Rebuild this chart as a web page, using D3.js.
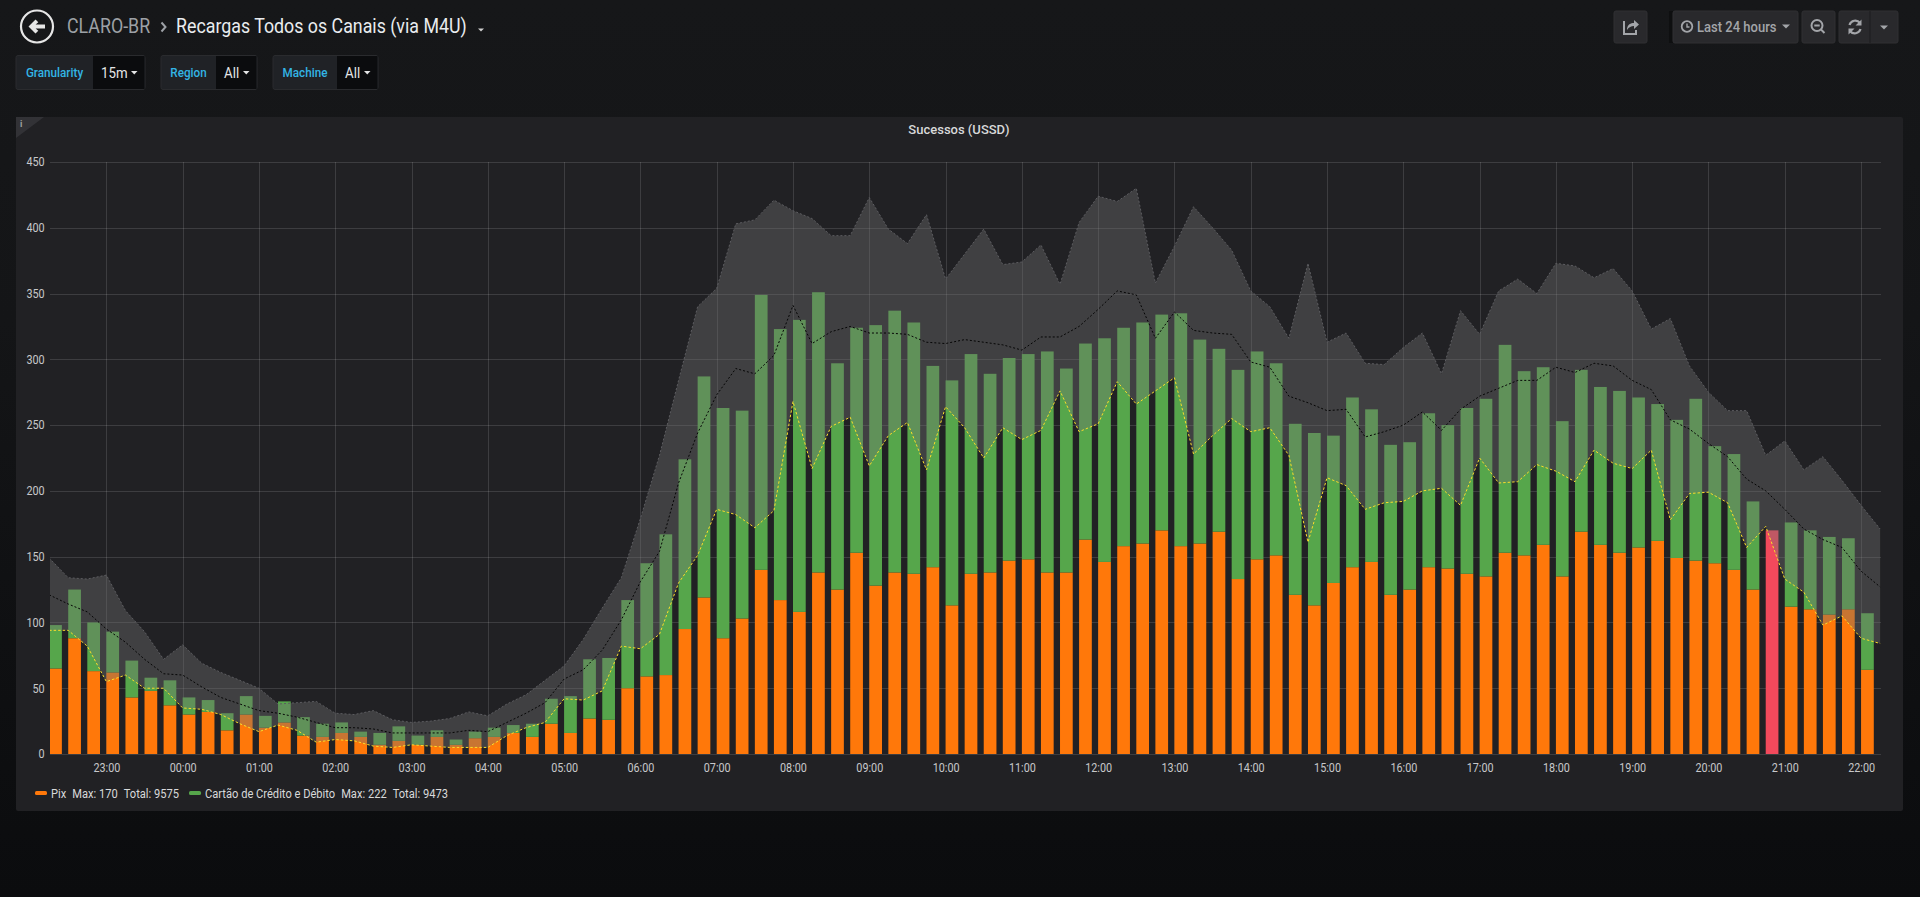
<!DOCTYPE html>
<html lang="pt-BR">
<head>
<meta charset="utf-8">
<title>Recargas Todos os Canais (via M4U)</title>
<script src="https://cdn.jsdelivr.net/npm/d3@7"></script>
<style>
  html, body { margin: 0; padding: 0; }
  body {
    width: 1920px; height: 897px; overflow: hidden;
    background: linear-gradient(180deg, #161719 0px, #141517 320px, #0b0c0e 897px);
    font-family: Roboto, "Noto Sans", sans-serif;
  }
  svg text { font-family: Roboto, "Noto Sans", sans-serif; }
</style>
</head>
<body>
<div id="maViz"></div>
<script>
///////////////////////////////////////////////////////////////
// DONNEES (lues sur l'image, pas de 15 min, 22:15 -> 22:00)

const heuresLabels = ["23:00","00:00","01:00","02:00","03:00","04:00","05:00","06:00",
  "07:00","08:00","09:00","10:00","11:00","12:00","13:00","14:00","15:00","16:00",
  "17:00","18:00","19:00","20:00","21:00","22:00"];
const yTicks = [0, 50, 100, 150, 200, 250, 300, 350, 400, 450];

// Pix (orange, en bas de la pile)
const pix = [65,88,63,62,43,48,37,30,32,18, 30,20,24,14,13,16,13,7,10,7,
  13,7,12,13,16,13,23,16,27,26, 50,59,60,95,119,88,103,140,117,108,
  138,125,153,128,138,137,142,113,137,138, 147,148,138,138,163,146,158,160,170,158,
  160,169,133,148,151,121,113,130,142,146, 121,125,142,141,137,135,153,151,159,135,
  169,159,153,157,162,149,147,145,140,125, 170,112,110,106,110,64];

// Cartão de Crédito e Débito (vert, empilé sur Pix)
const cartao = [33,37,37,31,28,10,19,13,9,13, 14,9,16,14,10,8,4,9,11,7,
  5,4,5,7,6,10,19,28,45,47, 67,86,107,129,168,175,158,209,206,222,
  213,172,171,198,199,191,153,171,167,151, 154,156,168,155,149,170,166,168,164,177,
  155,139,159,158,146,130,131,112,129,116, 114,112,117,109,126,135,158,140,135,118,
  123,120,123,114,104,105,123,89,88,67, 0,64,60,59,54,43];

// barre en rouge (index)
const destaque = [90];

// comparaison : bande (haut / bas) + moyenne, un point de plus (22:15)
const bandeHaut = [149,134,133,136,109,93,72,83,69,62, 56,50,38,39,40,31,30,33,26,24,
  25,27,32,29,38,45,56,67,87,111, 134,179,227,284,340,354,403,406,421,413,
  407,394,394,423,399,388,410,361,380,399, 372,374,387,357,404,424,420,430,358,386,
  416,400,383,352,340,316,373,313,320,297, 296,309,320,289,337,319,352,361,350,373,
  371,362,369,352,323,331,295,275,261,261, 227,238,216,226,208,189,171];
const moyenne = [121,114,108,95,85,72,61,60,51,43, 38,33,31,28,24,20,20,19,16,16,
  16,16,18,17,24,31,39,57,64,79, 102,131,154,206,244,273,293,289,303,341,
  312,321,325,320,320,319,313,312,315,313, 311,307,317,317,325,338,352,349,316,336,
  322,320,319,298,294,272,267,261,262,241, 245,250,260,246,262,272,278,284,284,294,
  290,297,295,284,277,254,247,236,226,209, 200,186,171,163,157,139,127];
const bandeBas = [94,94,82,55,60,50,50,35,34,30, 23,17,22,18,9,11,10,6,5,7,
  6,5,5,5,14,20,24,42,41,48, 82,80,91,130,151,186,182,172,185,268,
  217,249,256,219,242,252,216,264,248,225, 248,239,246,276,245,251,283,266,276,286,
  228,242,255,245,248,227,161,210,204,186, 191,192,200,202,189,225,206,207,220,215,
  207,231,221,217,231,178,198,199,191,157, 173,133,123,98,105,88,84];

const legende = [
  {nom: "Pix", couleur: "#FF780A", max: "Max: 170", total: "Total: 9575"},
  {nom: "Cartão de Crédito e Débito", couleur: "#56A64B", max: "Max: 222", total: "Total: 9473"}
];

///////////////////////////////////////////////////////////////
// CANEVAS
const W = 1920, H = 897;
const plot = {left: 50, right: 1881, top: 162, bottom: 754};
const txt = "#d8d9da";
const etroit = 0.89; // le texte de la capture est un peu serré en largeur

const svg = d3.select("#maViz").append("svg")
  .attr("width", W).attr("height", H)
  .style("display", "block");

// texte un peu compressé horizontalement
function texte(g, x, y, s, sx) {
  return g.append("text")
    .attr("transform", `translate(${x},${y}) scale(${sx || etroit},1)`)
    .text(s);
}

///////////////////////////////////////////////////////////////
// ENTETE (bouton retour, titre, variables, barre d'outils)
const entete = svg.append("g");

entete.append("circle").attr("cx", 37).attr("cy", 26.5).attr("r", 16)
  .attr("fill", "none").attr("stroke", "#e6e6e6").attr("stroke-width", 2.2);
entete.append("path")
  .attr("d", "M28.5,26.5 L35.5,19.5 L38.3,22.3 L35.6,24.6 L45,24.6 L45,28.4 L35.6,28.4 L38.3,30.7 L35.5,33.5 Z")
  .attr("fill", "#e6e6e6");

texte(entete, 67, 33, "CLARO-BR").attr("font-size", 20).attr("fill", "#9da1a6");
entete.append("path").attr("d", "M161.5,22.5 L165.5,27 L161.5,31.5")
  .attr("fill", "none").attr("stroke", "#9da1a6").attr("stroke-width", 2);
texte(entete, 176, 33, "Recargas Todos os Canais (via M4U)").attr("font-size", 20).attr("fill", "#e9ecef");
entete.append("path").attr("d", "M478,28.5 L484,28.5 L481,31.5 Z").attr("fill", "#d0d0d0");

// variables du dashboard
const variables = [
  {label: "Granularity", valeur: "15m", x0: 16, x1: 93, x2: 145},
  {label: "Region", valeur: "All", x0: 161, x1: 216, x2: 257},
  {label: "Machine", valeur: "All", x0: 273, x1: 337, x2: 378}
];
variables.forEach(v => {
  const g = entete.append("g");
  g.append("rect").attr("x", v.x0).attr("y", 55.5).attr("width", v.x2 - v.x0).attr("height", 34)
    .attr("rx", 2).attr("fill", "#202226").attr("stroke", "#2a2b2e");
  g.append("rect").attr("x", v.x1).attr("y", 56).attr("width", v.x2 - v.x1 - 0.5).attr("height", 33)
    .attr("fill", "#0b0c0e");
  texte(g, (v.x0 + v.x1) / 2, 77, v.label, 0.9).attr("text-anchor", "middle")
    .attr("font-size", 13).attr("font-weight", 500).attr("fill", "#33b5e5");
  texte(g, v.x1 + 8, 77.5, v.valeur, 0.95)
    .attr("font-size", 14).attr("fill", "#e4e5e6");
  g.append("path").attr("d", `M${v.x2 - 14},71 L${v.x2 - 7.5},71 L${v.x2 - 10.75},74.5 Z`).attr("fill", "#e4e5e6");
});

// barre d'outils à droite
const boutons = [
  {x0: 1614, x1: 1647}, {x0: 1673, x1: 1798}, {x0: 1802, x1: 1835}, {x0: 1839, x1: 1898}
];
entete.append("rect").attr("x", 1669).attr("y", 11).attr("width", 4).attr("height", 32).attr("fill", "#0e0f10");
boutons.forEach(b => {
  entete.append("rect").attr("x", b.x0).attr("y", 11).attr("width", b.x1 - b.x0).attr("height", 32)
    .attr("rx", 2).attr("fill", "#29292c").attr("stroke", "#303033");
});
entete.append("line").attr("x1", 1870).attr("x2", 1870).attr("y1", 11).attr("y2", 43).attr("stroke", "#1c1c1e");
const gris = "#a3a5a9";
// partager
entete.append("path").attr("d", "M1624,21 L1624,34 L1636,34 L1636,30")
  .attr("fill", "none").attr("stroke", gris).attr("stroke-width", 2);
entete.append("path").attr("d", "M1627,30 C1627,24 1631,23 1634,23 L1634,20 L1639,24.5 L1634,29 L1634,26 C1631,26 1629,27 1627,30 Z")
  .attr("fill", gris);
// horloge + texte
entete.append("circle").attr("cx", 1687).attr("cy", 26.5).attr("r", 5.3).attr("fill", "none").attr("stroke", gris).attr("stroke-width", 1.8);
entete.append("path").attr("d", "M1687,23.5 L1687,27 L1689.5,27").attr("fill", "none").attr("stroke", gris).attr("stroke-width", 1.4);
texte(entete, 1697, 31.5, "Last 24 hours", 0.93).attr("font-size", 14).attr("font-weight", 500).attr("fill", gris);
entete.append("path").attr("d", "M1782,24.5 L1790,24.5 L1786,28.5 Z").attr("fill", gris);
// loupe
entete.append("circle").attr("cx", 1817).attr("cy", 25.5).attr("r", 5.5).attr("fill", "none").attr("stroke", gris).attr("stroke-width", 2);
entete.append("path").attr("d", "M1814.3,25.5 L1819.7,25.5 M1821,29.5 L1824.5,33").attr("stroke", gris).attr("stroke-width", 2);
// rafraîchir
entete.append("path").attr("d", "M1849.5,25 A6,6 0 0 1 1860,23 M1860.5,29 A6,6 0 0 1 1850,31")
  .attr("fill", "none").attr("stroke", gris).attr("stroke-width", 2.2);
entete.append("path").attr("d", "M1861.5,19.5 L1861.5,25.5 L1855.5,25.5 Z M1848.5,34.5 L1848.5,28.5 L1854.5,28.5 Z").attr("fill", gris);
entete.append("path").attr("d", "M1880,25.5 L1888,25.5 L1884,29.5 Z").attr("fill", gris);

///////////////////////////////////////////////////////////////
// PANNEAU
const panneau = svg.append("g");
panneau.append("rect").attr("x", 16).attr("y", 117).attr("width", 1887).attr("height", 694)
  .attr("rx", 2).attr("fill", "#212124");
panneau.append("path").attr("d", "M16,117 L44,117 L16,138 Z").attr("fill", "#323236");
panneau.append("text").attr("x", 20).attr("y", 127).attr("font-size", 9).attr("font-weight", 700)
  .attr("fill", "#a0a0a0").text("i");
panneau.append("text").attr("x", 959).attr("y", 134).attr("text-anchor", "middle")
  .attr("font-size", 13).attr("font-weight", 500).attr("fill", txt).text("Sucessos (USSD)");

///////////////////////////////////////////////////////////////
// ECHELLES
const debut = new Date(Date.UTC(2024, 2, 10, 22, 15));
const horaires = d3.utcMinute.every(15).range(debut, d3.utcMinute.offset(debut, 24 * 60 + 1)); // 97 points
const heures = heuresLabels.map((h, i) => d3.utcHour.offset(new Date(Date.UTC(2024, 2, 10, 23, 0)), i));

const x = d3.scaleUtc()
  .domain([d3.utcSecond.offset(debut, 40), d3.utcSecond.offset(debut, 24 * 3600 + 40)])
  .range([plot.left, plot.right]);
const y = d3.scaleLinear()
  .domain([0, 450])
  .range([plot.bottom, plot.top]);

svg.append("clipPath").attr("id", "zone")
  .append("rect").attr("x", plot.left).attr("y", plot.top - 2)
  .attr("width", plot.right - plot.left).attr("height", plot.bottom - plot.top + 2);

///////////////////////////////////////////////////////////////
// GRILLE
const grille = svg.append("g").attr("stroke", "rgba(255,255,255,0.13)").attr("stroke-width", 1);
grille.selectAll("line.h").data(yTicks).join("line").attr("class", "h")
  .attr("x1", plot.left).attr("x2", plot.right)
  .attr("y1", d => Math.round(y(d)) + 0.5).attr("y2", d => Math.round(y(d)) + 0.5);
grille.selectAll("line.v").data(heures).join("line").attr("class", "v")
  .attr("y1", plot.top).attr("y2", plot.bottom)
  .attr("x1", d => Math.round(x(d)) + 0.5).attr("x2", d => Math.round(x(d)) + 0.5);

///////////////////////////////////////////////////////////////
// BARRES EMPILEES
const zone = svg.append("g").attr("clip-path", "url(#zone)");
const barres = horaires.slice(0, pix.length).map((t, i) => ({
  t: t, pix: pix[i], cartao: cartao[i], rouge: destaque.includes(i)
}));
const largeur = d => x(d3.utcMinute.offset(d.t, 10)) - x(d.t);

zone.append("g").selectAll("rect")
  .data(barres).join("rect")
    .attr("x", d => x(d.t))
    .attr("width", largeur)
    .attr("y", d => y(d.pix))
    .attr("height", d => y(0) - y(d.pix))
    .attr("fill", d => d.rouge ? "#F2495C" : "#FF780A");

zone.append("g").selectAll("rect")
  .data(barres.filter(d => d.cartao > 0)).join("rect")
    .attr("x", d => x(d.t))
    .attr("width", largeur)
    .attr("y", d => y(d.pix + d.cartao))
    .attr("height", d => y(d.pix) - y(d.pix + d.cartao))
    .attr("fill", "#56A64B");

///////////////////////////////////////////////////////////////
// BANDE DE COMPARAISON + LIGNES POINTILLEES
const comp = horaires.map((t, i) => ({t: t, haut: bandeHaut[i], moy: moyenne[i], bas: bandeBas[i]}));

zone.append("path").datum(comp)
  .attr("fill", "rgba(113,113,113,0.39)")
  .attr("d", d3.area().x(d => x(d.t)).y0(d => y(d.bas)).y1(d => y(d.haut)));

const ligne = champ => d3.line().x(d => x(d.t)).y(d => y(d[champ]));
zone.append("path").datum(comp).attr("fill", "none")
  .attr("stroke", "#5c5c60").attr("stroke-width", 1).attr("stroke-dasharray", "2,2")
  .attr("d", ligne("haut"));
zone.append("path").datum(comp).attr("fill", "none")
  .attr("stroke", "#050505").attr("stroke-width", 1).attr("stroke-dasharray", "2,2")
  .attr("d", ligne("moy"));
zone.append("path").datum(comp).attr("fill", "none")
  .attr("stroke", "#FADE2A").attr("stroke-width", 1).attr("stroke-dasharray", "2.5,2")
  .attr("d", ligne("bas"));

///////////////////////////////////////////////////////////////
// AXES
const axeX = svg.append("g")
  .attr("transform", `translate(0,${plot.bottom})`)
  .call(d3.axisBottom(x).tickValues(heures).tickFormat((d, i) => heuresLabels[i]).tickSize(0).tickPadding(9));
const axeY = svg.append("g")
  .attr("transform", `translate(${plot.left},0)`)
  .call(d3.axisLeft(y).tickValues(yTicks).tickFormat(d => d).tickSize(0).tickPadding(6));
[axeX, axeY].forEach(a => {
  a.select(".domain").remove();
  a.selectAll("text").attr("fill", "#c7c8ca").attr("font-size", 12)
    .attr("transform", "scale(0.9,1)")
    .attr("font-family", "Roboto, 'Noto Sans', sans-serif");
});

///////////////////////////////////////////////////////////////
// LEGENDE
const leg = svg.append("g").attr("font-size", 12.5).attr("fill", txt);
let lx = 35;
legende.forEach(s => {
  leg.append("rect").attr("x", lx).attr("y", 791).attr("width", 12).attr("height", 4)
    .attr("rx", 1.5).attr("fill", s.couleur);
  lx += 16;
  [s.nom, s.max, s.total].forEach((t, k) => {
    const el = texte(leg, lx, 797.5, t);
    lx += el.node().getComputedTextLength() * etroit + (k < 2 ? 6 : 10);
  });
});
</script>
</body>
</html>
